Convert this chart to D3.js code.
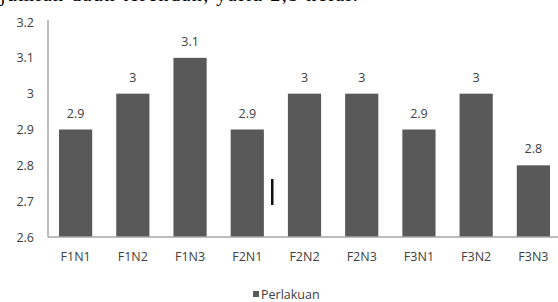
<!DOCTYPE html>
<html>
<head>
<meta charset="utf-8">
<script src="https://cdn.jsdelivr.net/npm/d3@7"></script>
<style>
  body { margin: 0; background: #fff; }
  svg { display: block; }
</style>
</head>
<body>
<svg width="558" height="302"></svg>
<script>
const categories = ['F1N1', 'F1N2', 'F1N3', 'F2N1', 'F2N2', 'F2N3', 'F3N1', 'F3N2', 'F3N3'];
const values = [2.9, 3.0, 3.1, 2.9, 3.0, 3.0, 2.9, 3.0, 2.8];
const yTicks = [2.6, 2.7, 2.8, 2.9, 3.0, 3.1, 3.2];
const seriesName = 'Perlakuan';

const svg = d3.select('svg');
const font = 'Open Sans, sans-serif';
const fmt = d => d3.format('.1f')(d).replace('.0', '');

const xScale = d3.scaleBand()
  .domain(categories)
  .range([47, 562])
  .paddingInner(0.42)
  .paddingOuter(0.21);
const yScale = d3.scaleLinear()
  .domain([2.6, 3.2])
  .range([237, 22]);

// cut-off line of document text above the chart
svg.append('text')
  .attr('x', 0)
  .attr('y', 1)
  .attr('font-family', 'Liberation Serif, serif')
  .attr('font-size', 20)
  .attr('letter-spacing', 1.5)
  .attr('fill', '#000')
  .text('jumlah daun terendah, yaitu 2,5 helai.');

// bars
svg.append('g').selectAll('rect')
  .data(values)
  .join('rect')
  .attr('x', (d, i) => xScale(categories[i]))
  .attr('width', xScale.bandwidth())
  .attr('y', d => yScale(d))
  .attr('height', d => yScale(2.6) - yScale(d))
  .attr('fill', '#595959');

// y axis
const yAxis = svg.append('g')
  .attr('transform', 'translate(48,0)')
  .call(d3.axisLeft(yScale).tickValues(yTicks).tickSize(0).tickPadding(14).tickFormat(fmt));
yAxis.select('.domain').attr('stroke', '#a6a6a6').attr('stroke-width', 1.5)
  .attr('d', 'M0,20V237');
yAxis.selectAll('text')
  .attr('font-family', font).attr('font-size', 12.5).attr('fill', '#404040');

// x axis
const xAxis = svg.append('g')
  .attr('transform', 'translate(0,237)')
  .call(d3.axisBottom(xScale).tickSize(0).tickPadding(15));
xAxis.select('.domain').attr('stroke', '#a6a6a6').attr('stroke-width', 1.5)
  .attr('d', 'M48,0H558');
xAxis.selectAll('text')
  .attr('font-family', font).attr('font-size', 12.5).attr('fill', '#404040');

// value labels
svg.append('g').selectAll('text')
  .data(values)
  .join('text')
  .attr('x', (d, i) => xScale(categories[i]) + xScale.bandwidth() / 2)
  .attr('y', d => yScale(d) - 12)
  .attr('text-anchor', 'middle')
  .attr('font-family', font)
  .attr('font-size', 12.5)
  .attr('fill', '#404040')
  .text(fmt);

// stray mark
svg.append('rect')
  .attr('x', 271).attr('y', 179)
  .attr('width', 2.5).attr('height', 26)
  .attr('fill', '#111');

// legend
const legend = svg.append('g').attr('transform', 'translate(253,290)');
legend.append('rect')
  .attr('width', 6).attr('height', 6)
  .attr('y', 1)
  .attr('fill', '#595959');
legend.append('text')
  .attr('x', 8).attr('y', 9)
  .attr('font-family', font)
  .attr('font-size', 12.5)
  .attr('fill', '#404040')
  .text(seriesName);
</script>
</body>
</html>
